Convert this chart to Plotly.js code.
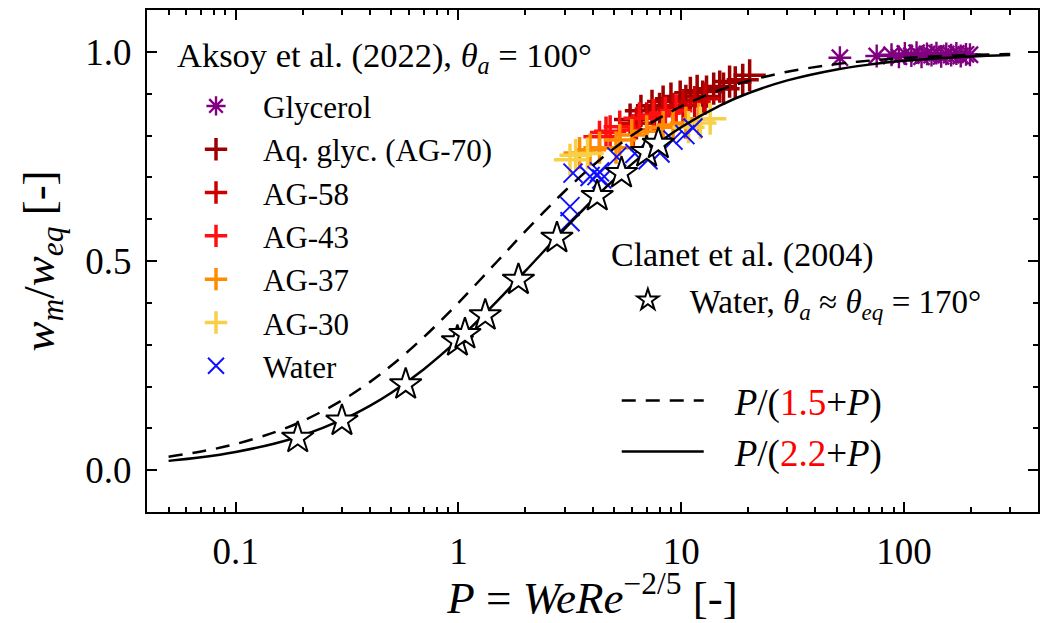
<!DOCTYPE html>
<html><head><meta charset="utf-8">
<script src="https://cdn.plot.ly/plotly-3.0.1.min.js"></script>
<style>html,body{margin:0;padding:0;background:#fff}</style>
</head><body><div id="chart" style="width:1040px;height:623px"></div>
<script>
// ---- Data ----
const glycerolP = [51.6, 75.5, 88, 95, 101, 108, 114, 120, 127, 133, 140, 147, 155, 163, 172, 180, 190, 198];
const glycerolY = [0.986, 0.99, 0.993, 0.988, 0.996, 0.991, 0.998, 0.988, 0.995, 0.992, 0.997, 0.989, 0.995, 0.992, 0.996, 0.99, 0.994, 0.993];

const ag70P = [5.9, 6.6, 7.4, 8.3, 9.0, 9.9, 11.0, 11.8, 13.0, 14.0, 14.9, 16.5, 17.5, 18.9, 20.3, 8.0, 10.5, 12.5, 15.5];
const ag70Y = [0.838, 0.859, 0.871, 0.881, 0.888, 0.893, 0.902, 0.907, 0.905, 0.912, 0.917, 0.929, 0.927, 0.933, 0.944, 0.864, 0.883, 0.893, 0.912];

const ag58P = [6.3, 7.0, 7.6, 8.3, 9.2, 10.2, 11.5, 12.8];
const ag58Y = [0.829, 0.841, 0.847, 0.853, 0.864, 0.871, 0.880, 0.888];

const ag43P = [4.3, 4.6, 4.8, 5.3, 6.1, 6.5, 7.5, 8.5, 9.5];
const ag43Y = [0.797, 0.807, 0.810, 0.821, 0.813, 0.841, 0.849, 0.854, 0.859];

const ag37P = [3.5, 3.9, 4.3, 5.1, 5.3, 6.0, 7.0, 8.3, 9.2, 10.5, 12.0];
const ag37Y = [0.758, 0.766, 0.771, 0.771, 0.789, 0.801, 0.810, 0.820, 0.825, 0.830, 0.840];

const ag30P = [3.17, 3.36, 3.8, 10.8, 12.2, 13.5];
const ag30Y = [0.742, 0.753, 0.757, 0.820, 0.830, 0.840];

const waterP = [3.17, 3.17, 3.27, 3.9, 4.19, 4.3, 4.4, 5.14, 6.2, 7.1, 8.04, 9.19, 10.4, 11.3];
const waterY = [0.630, 0.594, 0.710, 0.702, 0.704, 0.713, 0.696, 0.749, 0.757, 0.742, 0.758, 0.789, 0.802, 0.818];

const clanetP = [0.19, 0.30, 0.58, 0.99, 1.07, 1.32, 1.86, 2.77, 4.2, 5.4, 7.0, 7.9];
const clanetY = [0.077, 0.118, 0.205, 0.308, 0.325, 0.37, 0.455, 0.555, 0.655, 0.71, 0.76, 0.78];

// fitted curves
const curveP = [0.05, 0.07, 0.1, 0.15, 0.2, 0.3, 0.4, 0.5, 0.7, 1, 1.5, 2, 3, 4, 5, 7, 10, 15, 20, 30, 50, 70, 100, 150, 200, 300];
const dashedY = [0.0323, 0.0446, 0.0625, 0.0909, 0.1176, 0.1667, 0.2105, 0.25, 0.3182, 0.4, 0.5, 0.5714, 0.6667, 0.7273, 0.7692, 0.8235, 0.8696, 0.9091, 0.9302, 0.9524, 0.9709, 0.979, 0.9852, 0.9901, 0.9926, 0.995];
const solidY = [0.0222, 0.0308, 0.0435, 0.0638, 0.0833, 0.12, 0.1538, 0.1852, 0.2414, 0.3125, 0.4054, 0.4762, 0.5769, 0.6452, 0.6944, 0.7609, 0.8197, 0.8721, 0.9009, 0.9317, 0.9579, 0.9695, 0.9785, 0.9855, 0.9891, 0.9927];

const xTickVals = [0.1, 1, 10, 100];
const xTickText = ['0.1', '1', '10', '100'];

// ---- Traces ----
const FONT = 'Liberation Serif';
function plus(name, x, y, color) {
  return {type: 'scatter', mode: 'markers', name: name, x: x, y: y, legend: 'legend',
    marker: {symbol: 'cross-thin-open', size: 23, color: color, line: {color: color, width: 3.5}}};
}
const traces = [
  {type: 'scatter', mode: 'markers', name: 'Glycerol', x: glycerolP, y: glycerolY, legend: 'legend',
    marker: {symbol: 'asterisk-open', size: 19, color: '#800080', line: {color: '#800080', width: 2.4}}},
  plus('Aq. glyc. (AG-70)', ag70P, ag70Y, '#9e0000'),
  plus('AG-58', ag58P, ag58Y, '#cc0000'),
  plus('AG-43', ag43P, ag43Y, '#ff1010'),
  plus('AG-37', ag37P, ag37Y, '#ff8c00'),
  plus('AG-30', ag30P, ag30Y, '#f8d048'),
  {type: 'scatter', mode: 'markers', name: 'Water', x: waterP, y: waterY, legend: 'legend',
    marker: {symbol: 'x-thin-open', size: 19, color: '#1010ff', line: {color: '#1010ff', width: 2}}},
  {type: 'scatter', mode: 'lines', name: '\u2002\u2009<i>P</i>/(<span style="color:#ff0000">1.5</span>+<i>P</i>)', x: curveP, y: dashedY, legend: 'legend3',
    line: {color: '#000', width: 2.5, dash: '14px,10px', shape: 'spline'}},
  {type: 'scatter', mode: 'lines', name: '\u2002\u2009<i>P</i>/(<span style="color:#ff0000">2.2</span>+<i>P</i>)', x: curveP, y: solidY, legend: 'legend3',
    line: {color: '#000', width: 2.5, shape: 'spline'}},
  {type: 'scatter', mode: 'markers', name: 'Water, <i>θ</i><sub><i>a</i></sub> ≈ <i>θ</i><sub><i>eq</i></sub> = 170°', x: clanetP, y: clanetY, legend: 'legend2',
    marker: {symbol: 'star', size: 24, color: '#fff', line: {color: '#000', width: 2}}}
];

const axisCommon = {
  showline: true, linecolor: '#000', linewidth: 2, mirror: 'ticks',
  ticks: 'inside', ticklen: 10, tickwidth: 2, tickcolor: '#000',
  showgrid: false, zeroline: false,
  tickfont: {family: FONT, size: 37, color: '#000'}
};

const layout = {
  width: 1040, height: 623,
  margin: {l: 147, r: 2, t: 10, b: 111},
  paper_bgcolor: '#fff', plot_bgcolor: '#fff',
  font: {family: FONT, color: '#000'},
  xaxis: Object.assign({}, axisCommon, {
    type: 'log', range: [Math.log10(0.04), Math.log10(400)],
    tickmode: 'array', tickvals: xTickVals, ticktext: xTickText,
    ticklabelstandoff: 6,
    minor: {ticks: 'inside', ticklen: 5, tickwidth: 2, tickcolor: '#000', dtick: 'D1', showgrid: false},
    title: {text: '<i>P</i> = <i>WeRe</i><sup>−2/5</sup> [-]', font: {family: FONT, size: 45, color: '#000'}, standoff: 4}
  }),
  yaxis: Object.assign({}, axisCommon, {
    range: [-0.1, 1.1], dtick: 0.5, tick0: 0, tickformat: '.1f',
    ticklabelstandoff: 6,
    minor: {ticks: 'inside', ticklen: 5, tickwidth: 2, tickcolor: '#000', dtick: 0.1, showgrid: false},
    title: {text: '<i>w</i><sub><i>m</i></sub>/<i>w</i><sub><i>eq</i></sub> [-]', font: {family: FONT, size: 45, color: '#000'}, standoff: 17}
  }),
  showlegend: true,
  legend: {x: 0.0247, y: 0.862, xanchor: 'left', yanchor: 'top', bgcolor: 'rgba(0,0,0,0)',
    font: {family: FONT, size: 31, color: '#000'}, itemwidth: 84, tracegroupgap: 0, traceorder: 'normal'},
  legend2: {x: 0.515, y: 0.478, xanchor: 'left', yanchor: 'top', bgcolor: 'rgba(0,0,0,0)',
    font: {family: FONT, size: 33, color: '#000'}, itemwidth: 74},
  legend3: {x: 0.5272, y: 0.283, xanchor: 'left', yanchor: 'top', bgcolor: 'rgba(0,0,0,0)',
    font: {family: FONT, size: 37, color: '#000'}, itemwidth: 82, traceorder: 'normal'},
  annotations: [
    {xref: 'paper', yref: 'paper', x: 0.031, y: 0.906, xanchor: 'left', yanchor: 'middle', showarrow: false,
      text: 'Aksoy et al. (2022), <i>θ</i><sub><i>a</i></sub> = 100°', font: {family: FONT, size: 34.5, color: '#000'}},
    {xref: 'paper', yref: 'paper', x: 0.518, y: 0.511, xanchor: 'left', yanchor: 'middle', showarrow: false,
      text: 'Clanet et al. (2004)', font: {family: FONT, size: 34, color: '#000'}}
  ]
};

Plotly.newPlot('chart', traces, layout, {displayModeBar: false, responsive: false});
</script>
</body></html>
